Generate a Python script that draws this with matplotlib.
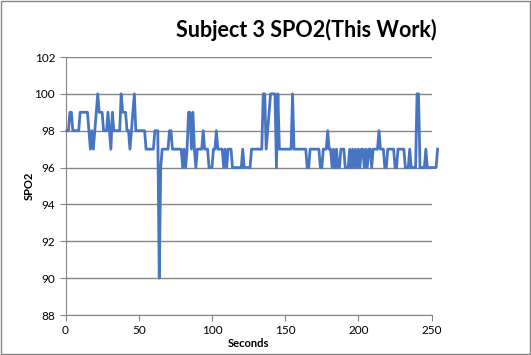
import numpy as np
import matplotlib.pyplot as plt

plt.rcParams['font.family'] = ['Lato', 'DejaVu Sans']

# seconds 1..254, one reading per second
seconds = list(range(1, 255))
spo2 = [
    98, 98, 99, 99, 98, 98, 98, 98, 98, 99,      # 1-10
    99, 99, 99, 99, 99, 98, 97, 98, 97, 98,      # 11-20
    99, 100, 99, 99, 99, 98, 98, 98, 99, 98,     # 21-30
    97, 99, 98, 98, 98, 98, 98, 100, 99, 99,     # 31-40
    99, 98, 98, 97, 98, 99, 100, 98, 98, 98,     # 41-50
    98, 98, 98, 98, 97, 97, 97, 97, 97, 97,      # 51-60
    98, 98, 98, 90, 96, 97, 97, 97, 97, 97,      # 61-70
    98, 98, 97, 97, 97, 97, 97, 97, 97, 96,      # 71-80
    97, 96, 97, 99, 99, 97, 99, 97, 96, 97,      # 81-90
    97, 97, 97, 98, 97, 97, 97, 96, 96, 96,      # 91-100
    97, 97, 98, 97, 97, 97, 97, 96, 97, 96,      # 101-110
    97, 97, 97, 96, 96, 96, 96, 96, 96, 96,      # 111-120
    97, 96, 96, 96, 96, 96, 97, 97, 97, 97,      # 121-130
    97, 97, 97, 97, 100, 100, 97, 98, 99, 100,   # 131-140
    100, 100, 100, 96, 100, 97, 97, 97, 97, 97,  # 141-150
    97, 97, 97, 97, 100, 97, 97, 97, 97, 97,     # 151-160
    97, 97, 97, 97, 96, 96, 97, 97, 97, 97,      # 161-170
    97, 97, 97, 96, 96, 97, 97, 97, 98, 97,      # 171-180
    97, 96, 97, 96, 97, 96, 96, 97, 97, 97,      # 181-190
    96, 96, 96, 97, 96, 97, 96, 97, 96, 97,      # 191-200
    96, 97, 97, 96, 97, 96, 97, 97, 96, 97,      # 201-210
    97, 97, 97, 98, 97, 97, 97, 96, 96, 97,      # 211-220
    97, 97, 97, 97, 96, 96, 97, 97, 97, 97,      # 221-230
    97, 96, 96, 96, 97, 96, 96, 96, 96, 100,     # 231-240
    100, 96, 96, 96, 96, 97, 96, 96, 96, 96,     # 241-250
    96, 96, 96, 97,                              # 251-254
]

x_ticks = [0, 50, 100, 150, 200, 250]
y_ticks = [88, 90, 92, 94, 96, 98, 100, 102]

fig = plt.figure(figsize=(5.31, 3.55), dpi=100)
ax = fig.add_axes([65.5 / 531, 1 - 315 / 355, (431.7 - 65.5) / 531, (315 - 57) / 355])

ax.plot(seconds, spo2, color='#4775C2', linewidth=2, clip_on=False, zorder=3)

ax.set_xlim(0, 250)
ax.set_ylim(88, 102)
ax.set_xticks(x_ticks)
ax.set_yticks(y_ticks)
ax.grid(axis='y', color='#868686', linewidth=1)
ax.set_axisbelow(True)

for s in ['top', 'right']:
    ax.spines[s].set_visible(False)
for s in ['left', 'bottom']:
    ax.spines[s].set_color('#868686')
ax.tick_params(colors='#868686', labelcolor='black', labelsize=8.5, length=4, direction='out')

ax.set_xlabel('Seconds', fontsize=8, fontweight='bold', labelpad=1)
ax.set_ylabel('SPO2', fontsize=8, fontweight='bold', labelpad=0)

fig.text(306 / 531, 1 - 30 / 355, 'Subject 3 SPO2(This Work)', fontsize=15.5,
         fontweight='bold', ha='center', va='center')

# chart border
fig.patches.append(plt.Rectangle((0.001, 0.002), 0.997, 0.995, transform=fig.transFigure,
                                 fill=False, edgecolor='#868686', linewidth=1))

fig.savefig('out.png', dpi=100)
